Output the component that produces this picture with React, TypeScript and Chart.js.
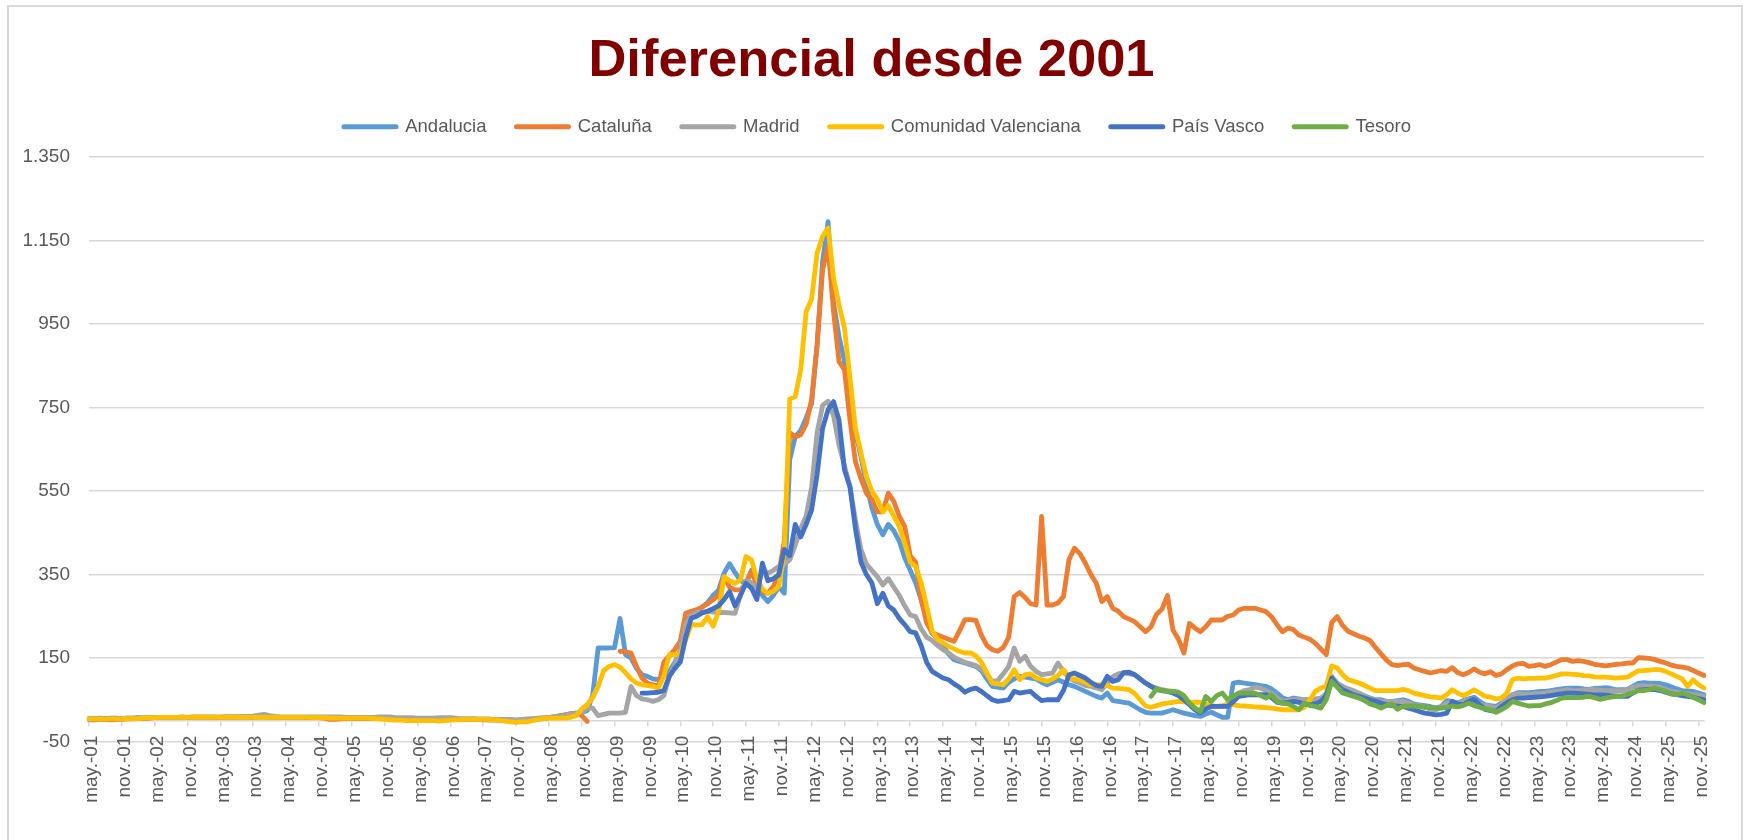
import React, { useEffect, useRef } from 'react';
import { Chart, registerables } from 'chart.js';

Chart.register(...registerables);

const FONT = '"Liberation Sans", Arial, sans-serif';
const _ = null;

// Monthly categories: may.-01 ... dic.-25
const MONTHS_ES = ['ene.', 'feb.', 'mar.', 'abr.', 'may.', 'jun.', 'jul.', 'ago.', 'sept.', 'oct.', 'nov.', 'dic.'];
const START_YEAR = 2001;
const START_MONTH = 4; // May
const MONTH_COUNT = 296;
const categories: string[] = Array.from({ length: MONTH_COUNT }, (_v, i) => {
  const m = (START_MONTH + i) % 12;
  const y = START_YEAR + Math.floor((START_MONTH + i) / 12);
  return `${MONTHS_ES[m]}-${String(y % 100).padStart(2, '0')}`;
});

const yTicks = [-50, 150, 350, 550, 750, 950, 1150, 1350];

const seriesNames = ['Andalucia', 'Cataluña', 'Madrid', 'Comunidad Valenciana', 'País Vasco', 'Tesoro'];
const seriesColors = ['#5B9BD5', '#ED7D31', '#A5A5A5', '#FFC000', '#4472C4', '#70AD47'];

const andalucia = [
  5, 5, 6, 5, 6, 6, 5, 6,
  6, 7, 6, 7, 8, 8, 7, 8, 8, 9, 8, 8,
  8, 8, 8, 7, 8, 8, 8, 8, 9, 8, 8, 9,
  9, 8, 8, 8, 8, 8, 7, 8, 8, 8, 8, 7,
  7, 7, 6, 6, 7, 6, 6, 6, 6, 5, 5, 5,
  4, 4, 4, 3, 3, 3, 3, 4, 3, 3, 3, 3,
  3, 3, 3, 3, 3, 2, 2, 1, 0, 0, -1, 0,
  2, 3, 4, 5, 7, 9, 12, 14, 17, 18, 19, 24,
  60, 174, 174, 174, 175, 245, 158, 150, 125, 110, 106, 100,
  98, 108, 118, 140, 165, 240, 252, 262, 272, 283, 300, 312,
  353, 376, 355, 335, 329, 360, 330, 300, 285, 300, 320, 305,
  625, 680, 695, 725, 760, 900, 1100, 1195, 1000, 920, 860, 760,
  690, 633, 565, 510, 470, 445, 470, 455, 430, 390, 360, 330,
  290, 245, 210, 195, 180, 160, 146, 142, 138, 134, 130, 120,
  100, 82, 80, 78, 92, 100, 106, 104, 102, 100, 92, 86,
  92, 98, 92, 86, 82, 76, 70, 64, 58, 54, 66, 48,
  46, 44, 42, 34, 26, 20, 18, 18, 18, 22, 26, 22,
  18, 15, 12, 10, 16, 20, 14, 8, 8, 90, 92, 90,
  88, 86, 84, 82, 76, 66, 55, 50, 54, 52, 50, 50,
  48, 46, 55, 98, 85, 74, 70, 66, 62, 58, 54, 50,
  50, 46, 46, 48, 50, 46, 40, 38, 36, 34, 30, 34,
  48, 46, 42, 48, 52, 56, 46, 38, 36, 34, 42, 52,
  62, 67, 67, 67, 68, 70, 70, 72, 74, 76, 78, 78,
  78, 76, 75, 77, 78, 79, 77, 74, 74, 75, 82, 89,
  91, 90, 90, 89, 86, 81, 76, 72, 71, 70, 66, 62,
];

const cataluna = [
  2, 2, 3, 3, 2, 3, 3, 4,
  4, 5, 5, 6, 7, 7, 8, 8, 8, 8, 8, 9,
  9, 9, 9, 9, 8, 9, 9, 9, 9, 9, 9, 9,
  9, 9, 8, 8, 8, 8, 8, 8, 8, 7, 7, 6,
  3, 3, 4, 5, 5, 5, 5, 5, 5, 5, 5, 5,
  4, 4, 4, 4, 3, 3, 3, 3, 4, 3, 3, 3,
  3, 3, 3, 3, 2, 2, 2, 1, 0, 0, 0, 1,
  2, 3, 4, 5, 7, 9, 11, 14, 16, 18, 12, -2,
  _, _, _, _, _, 166, 165, 162, 130, 102, 90, 86,
  82, 140, 155, 170, 190, 257, 262, 266, 272, 280, 290, 300,
  345, 320, 313, 313, 330, 357, 325, 310, 305, 321, 353, 430,
  690, 680, 685, 710, 770, 900, 1080, 1135, 980, 860, 840, 720,
  620, 580, 545, 530, 500, 500, 545, 525, 490, 465, 395, 380,
  290, 235, 210, 205, 200, 195, 190, 215, 242, 242, 240, 205,
  180, 170, 166, 175, 200, 297, 307, 295, 280, 277, 489, 277,
  277, 282, 297, 385, 413, 400, 377, 350, 329, 285, 297, 269,
  262, 249, 243, 237, 225, 213, 225, 255, 267, 300, 217, 195,
  162, 233, 222, 213, 225, 241, 241, 241, 250, 253, 265, 269,
  269, 269, 265, 261, 249, 230, 213, 222, 218, 205, 200, 195,
  185, 172, 158, 235, 249, 228, 214, 208, 202, 198, 192, 175,
  160, 145, 134, 132, 134, 135, 126, 122, 118, 114, 117, 120,
  118, 127, 115, 110, 115, 124, 116, 112, 117, 108, 112, 122,
  131, 136, 137, 130, 132, 134, 130, 134, 140, 146, 146, 142,
  144, 142, 139, 135, 133, 131, 133, 135, 136, 138, 138, 151,
  150, 149, 146, 142, 138, 133, 130, 128, 126, 120, 114, 108,
];

const madrid = [
  3, 4, 4, 5, 5, 5, 5, 6,
  6, 6, 7, 7, 7, 8, 8, 8, 8, 8, 8, 8,
  8, 8, 8, 8, 9, 9, 9, 9, 9, 10, 11, 13,
  15, 12, 10, 9, 9, 9, 9, 9, 9, 9, 9, 9,
  9, 9, 9, 8, 8, 8, 8, 8, 8, 9, 9, 9,
  7, 7, 7, 7, 6, 6, 6, 6, 7, 7, 7, 6,
  5, 5, 5, 4, 4, 4, 3, 3, 3, 3, 2, 3,
  4, 5, 6, 7, 8, 9, 10, 12, 15, 18, 20, 30,
  30, 12, 15, 18, 18, 18, 20, 82, 60, 52, 50, 46,
  50, 60, 106, 135, 170, 230, 252, 259, 260, 261, 260, 259,
  259, 258, 257, 300, 335, 330, 313, 360, 353, 360, 369, 375,
  385, 420, 460, 490, 560, 690, 755, 765, 730, 660, 610, 560,
  480, 410, 375, 360, 345, 325, 340, 320, 300, 275, 253, 249,
  220, 200, 192, 180, 170, 162, 152, 145, 140, 136, 132, 124,
  110, 94, 96, 112, 130, 174, 142, 154, 130, 118, 110, 112,
  114, 138, 118, 102, 95, 90, 84, 82, 78, 74, 90, 105,
  112, 115, 112, 110, 100, 90, 82, 78, 74, 72, 70, 66,
  55, 40, 30, 18, 28, 34, 34, 34, 40, 55, 65, 72,
  74, 80, 78, 72, 66, 55, 46, 48, 50, 50, 50, 50,
  52, 54, 65, 106, 90, 82, 76, 72, 66, 60, 54, 48,
  46, 46, 46, 46, 46, 42, 38, 36, 32, 28, 26, 32,
  42, 44, 40, 45, 50, 46, 40, 36, 34, 30, 38, 52,
  62, 64, 63, 62, 64, 64, 66, 68, 70, 72, 74, 72,
  72, 73, 74, 74, 73, 72, 72, 72, 72, 73, 80, 83,
  83, 82, 82, 80, 74, 70, 68, 66, 64, 62, 60, 58,
];

const valenciana = [
  4, 4, 4, 4, 4, 4, 4, 5,
  5, 5, 6, 7, 7, 8, 8, 8, 8, 8, 8, 8,
  8, 8, 8, 8, 8, 8, 8, 8, 8, 8, 8, 8,
  8, 8, 8, 8, 8, 8, 8, 8, 8, 7, 7, 7,
  6, 6, 6, 6, 6, 6, 6, 6, 5, 4, 3, 2,
  1, 1, 0, 0, 0, 0, 0, 0, -1, 0, 1, 2,
  3, 3, 3, 3, 3, 3, 2, 1, -1, -3, -4, -3,
  -3, 0, 3, 5, 6, 6, 6, 6, 8, 12, 28, 38,
  55, 82, 120, 130, 134, 128, 115, 100, 90, 86, 84, 82,
  78, 106, 158, 158, 160, 194, 230, 229, 230, 249, 226, 261,
  345, 335, 329, 337, 393, 385, 340, 315, 305, 310, 321, 400,
  770, 776, 840, 980, 1010, 1120, 1160, 1180, 1060, 995, 940, 820,
  700, 641, 585, 550, 530, 500, 515, 490, 465, 425, 380, 369,
  330, 275, 215, 195, 186, 178, 172, 166, 162, 162, 155, 140,
  115, 90, 88, 86, 100, 122, 98, 110, 112, 102, 98, 94,
  100, 108, 122, 102, 100, 98, 92, 86, 86, 86, 84, 78,
  77, 76, 74, 65, 50, 35, 32, 36, 40, 42, 44, 46,
  45, 44, 44, 44, 40, 36, 34, 36, 38, 38, 36, 35,
  34, 33, 32, 31, 30, 28, 26, 26, 26, 26, 32, 50,
  70, 78, 82, 131, 126, 110, 98, 94, 90, 84, 78, 72,
  72, 72, 72, 72, 75, 72, 66, 63, 60, 57, 56, 54,
  62, 74, 66, 60, 66, 74, 66, 58, 56, 52, 54, 66,
  98, 102, 100, 101, 101, 102, 102, 105, 108, 112, 112, 111,
  110, 108, 107, 105, 104, 104, 103, 102, 103, 104, 112, 119,
  120, 121, 122, 122, 118, 112, 106, 100, 82, 98, 86, 78,
];

const paisVasco = [
  _, _, _, _, _, _, _, _,
  _, _, _, _, _, _, _, _, _, _, _, _,
  _, _, _, _, _, _, _, _, _, _, _, _,
  _, _, _, _, _, _, _, _, _, _, _, _,
  _, _, _, _, _, _, _, _, _, _, _, _,
  _, _, _, _, _, _, _, _, _, _, _, _,
  _, _, _, _, _, _, _, _, _, _, _, _,
  _, _, _, _, _, _, _, _, _, _, _, _,
  _, _, _, _, _, _, _, _, _, 66, 66, 67,
  68, 72, 106, 125, 140, 200, 245, 250, 258, 262, 268, 275,
  290, 309, 275, 300, 329, 317, 290, 377, 335, 340, 349, 410,
  395, 470, 440, 470, 505, 590, 700, 745, 764, 720, 600, 560,
  460, 380, 350, 330, 280, 305, 275, 265, 245, 230, 213, 210,
  180, 140, 118, 110, 102, 98, 88, 80, 68, 75, 78, 70,
  60, 50, 46, 48, 50, 70, 66, 68, 70, 58, 48, 50,
  50, 50, 72, 110, 114, 108, 102, 92, 84, 82, 106, 94,
  98, 115, 116, 110, 100, 90, 82, 74, 72, 70, 66, 60,
  50, 38, 26, 18, 28, 34, 34, 34, 34, 45, 58, 60,
  62, 62, 62, 62, 55, 44, 42, 44, 46, 44, 40, 38,
  40, 46, 60, 102, 85, 74, 68, 62, 58, 54, 50, 46,
  42, 38, 36, 35, 34, 30, 26, 22, 18, 16, 14, 15,
  18, 46, 40, 38, 46, 51, 38, 27, 24, 22, 34, 43,
  50, 54, 54, 55, 56, 57, 58, 60, 62, 64, 66, 66,
  65, 64, 63, 62, 62, 61, 60, 59, 58, 58, 66, 73,
  74, 75, 74, 72, 68, 64, 62, 60, 58, 56, 53, 50,
];

const tesoro = [
  _, _, _, _, _, _, _, _,
  _, _, _, _, _, _, _, _, _, _, _, _,
  _, _, _, _, _, _, _, _, _, _, _, _,
  _, _, _, _, _, _, _, _, _, _, _, _,
  _, _, _, _, _, _, _, _, _, _, _, _,
  _, _, _, _, _, _, _, _, _, _, _, _,
  _, _, _, _, _, _, _, _, _, _, _, _,
  _, _, _, _, _, _, _, _, _, _, _, _,
  _, _, _, _, _, _, _, _, _, _, _, _,
  _, _, _, _, _, _, _, _, _, _, _, _,
  _, _, _, _, _, _, _, _, _, _, _, _,
  _, _, _, _, _, _, _, _, _, _, _, _,
  _, _, _, _, _, _, _, _, _, _, _, _,
  _, _, _, _, _, _, _, _, _, _, _, _,
  _, _, _, _, _, _, _, _, _, _, _, _,
  _, _, _, _, _, _, _, _, _, _, _, _,
  _, _, _, _, _, _, 58, 76, 72, 70, 70, 68,
  60, 42, 30, 22, 58, 46, 60, 66, 50, 58, 66, 66,
  66, 66, 60, 54, 62, 46, 42, 40, 34, 26, 42, 36,
  34, 30, 50, 94, 80, 66, 62, 58, 54, 48, 40, 36,
  30, 36, 40, 27, 34, 35, 35, 34, 32, 31, 30, 30,
  32, 35, 33, 36, 42, 36, 32, 28, 26, 20, 26, 34,
  46, 42, 38, 35, 36, 36, 40, 43, 48, 54, 55, 55,
  55, 56, 58, 55, 51, 54, 56, 58, 59, 63, 67, 72,
  72, 74, 78, 74, 70, 64, 62, 66, 62, 56, 50, 43,
];

const seriesData = [andalucia, cataluna, madrid, valenciana, paisVasco, tesoro];

const formatThousands = (v: number) => String(v).replace(/\B(?=(\d{3})+(?!\d))/g, '.');

// Nudges the legend row slightly to the right, as in the reference
const legendShift = {
  id: 'legendShift',
  afterLayout(chart: any) {
    if (chart.legend) {
      chart.legend.left += 6;
      chart.legend.right += 6;
    }
  },
};

export default function App() {
  const canvasRef = useRef<HTMLCanvasElement | null>(null);

  useEffect(() => {
    const canvas = canvasRef.current;
    if (!canvas) return;
    const n = seriesNames.length;
    const chart = new Chart(canvas, {
      type: 'line',
      data: {
        labels: categories,
        datasets: seriesNames.map((name, i) => ({
          label: name,
          data: seriesData[i],
          borderColor: seriesColors[i],
          backgroundColor: seriesColors[i],
          borderWidth: 4.8,
          pointRadius: 0,
          pointHoverRadius: 0,
          tension: 0,
          spanGaps: false,
          fill: false,
          borderJoinStyle: 'round',
          borderCapStyle: 'round',
          order: n - i,
          yAxisID: 'y',
        })),
      },
      plugins: [legendShift],
      options: {
        responsive: false,
        animation: false,
        devicePixelRatio: 1,
        events: [],
        layout: { padding: { left: 0, right: 0, top: 0, bottom: 98.5 } },
        plugins: {
          title: {
            display: true,
            text: 'Diferencial desde 2001',
            color: '#800000',
            font: { family: FONT, size: 52.5, weight: 'bold', lineHeight: 1 },
            padding: { top: 35, bottom: 0 },
          },
          subtitle: {
            display: true,
            text: '',
            weight: 500,
            font: { family: FONT, size: 1, lineHeight: 1 },
            padding: { top: 0, bottom: 10 },
          },
          legend: {
            display: true,
            position: 'top',
            labels: {
              usePointStyle: true,
              pointStyle: 'line',
              pointStyleWidth: 52,
              padding: 30,
              color: '#595959',
              font: { family: FONT, size: 18.5 },
              generateLabels: () =>
                seriesNames.map((name, i) => ({
                  text: name,
                  fillStyle: seriesColors[i],
                  strokeStyle: seriesColors[i],
                  lineWidth: 5,
                  lineCap: 'round',
                  pointStyle: 'line',
                  hidden: false,
                  datasetIndex: i,
                  fontColor: '#595959',
                })),
            },
          },
          tooltip: { enabled: false },
        },
        scales: {
          x: {
            type: 'category',
            position: { y: 0 },
            offset: false,
            grid: {
              drawOnChartArea: false,
              drawTicks: true,
              tickLength: 5,
              lineWidth: 1.5,
              color: (ctx: any) => (ctx.index % 6 === 0 ? '#d9d9d9' : 'rgba(0,0,0,0)'),
            },
            border: { display: true, color: '#d9d9d9', width: 1.5 },
            ticks: {
              autoSkip: false,
              maxRotation: 90,
              minRotation: 90,
              padding: 10,
              labelOffset: 3,
              color: '#595959',
              font: { family: FONT, size: 19 },
              callback: (_v: any, i: number) => (i % 6 === 0 ? categories[i] : ''),
            },
          },
          y: {
            position: 'left',
            min: yTicks[0],
            max: yTicks[yTicks.length - 1],
            afterFit: (scale: any) => {
              scale.width = 89;
            },
            grid: { color: '#d9d9d9', lineWidth: 1.5, drawTicks: false },
            border: { display: false },
            ticks: {
              stepSize: yTicks[1] - yTicks[0],
              padding: 19,
              color: '#595959',
              font: { family: FONT, size: 19 },
              callback: (v: any) => formatThousands(Number(v)),
            },
          },
          spacerRight: {
            type: 'linear',
            position: 'right',
            display: true,
            afterFit: (scale: any) => {
              scale.width = 39;
            },
            grid: { display: false, drawTicks: false },
            border: { display: false },
            ticks: { display: false },
          },
        },
      },
    } as any);
    return () => chart.destroy();
  }, []);

  return (
    <div style={{ position: 'fixed', left: 0, top: 0, width: 1743, height: 840, overflow: 'hidden', background: '#ffffff' }}>
      <div
        style={{
          position: 'absolute',
          left: 7,
          top: 5,
          width: 1736,
          height: 900,
          border: '2px solid #d9d9d9',
          boxSizing: 'border-box',
        }}
      />
      <canvas ref={canvasRef} width={1743} height={840} style={{ position: 'absolute', left: 0, top: 0, display: 'block' }} />
    </div>
  );
}
